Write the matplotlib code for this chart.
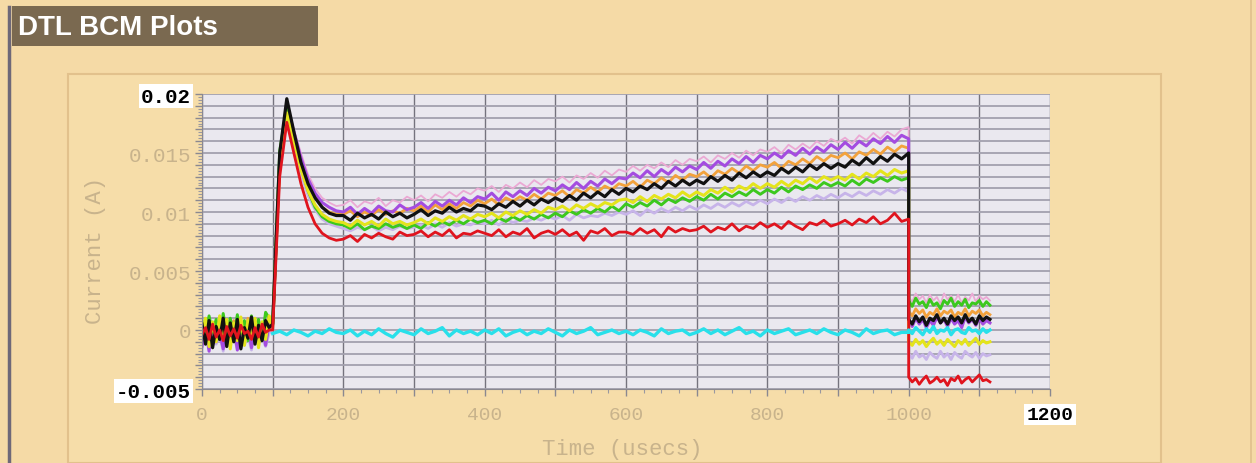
import numpy as np
import matplotlib.pyplot as plt
from matplotlib.patches import Rectangle
from matplotlib.lines import Line2D

'''DTL BCM plots - beam current monitor traces'''

# sample times (usecs)
t_pre = np.arange(0, 100, 5)
t_main = np.arange(100, 1001, 10)
t_post = np.arange(1000, 1116, 5)

# =============================================================================
# currents in units of 1e-4 A
# =============================================================================
pink_pre = [3, -6, 6, -9, 1, -4, 7, -11, 2, -3, 5, -8, 0, -5, 6, -10, 3, -2, 5, 1]
pink_main = [2, 140, 186, 170, 150, 132, 120, 112, 108, 105,
             106, 110, 104, 109, 107, 112, 105, 110, 108, 113,
             110, 114, 109, 115, 112, 117, 113, 118, 115, 120,
             118, 122, 117, 123, 120, 125, 121, 127, 123, 128,
             126, 130, 125, 131, 128, 133, 129, 135, 131, 136,
             134, 139, 135, 140, 137, 142, 138, 144, 140, 145,
             143, 147, 142, 148, 145, 150, 146, 152, 148, 153,
             151, 155, 150, 157, 153, 158, 154, 160, 156, 162,
             159, 163, 158, 165, 161, 167, 162, 168, 164, 170,
             172]
pink_post = [28, 24, 31, 26, 29, 23, 30, 25, 28, 22, 31, 26, 29, 24, 30, 23, 28, 25, 31, 24, 29, 26, 28, 25]

lav_pre = [-10, -3, -15, 0, -12, -5, -18, -2, -11, -6, -16, -1, -13, -4, -17, 1, -9, -7, -14, -3]
lav_main = [1, 138, 180, 156, 132, 114, 102, 94, 90, 88,
            86, 84, 87, 85, 88, 84, 87, 85, 88, 86,
            87, 89, 86, 90, 87, 91, 88, 90, 89, 92,
            90, 93, 89, 94, 91, 93, 92, 95, 93, 96,
            94, 97, 93, 98, 95, 97, 96, 99, 97, 100,
            98, 101, 97, 102, 99, 103, 100, 104, 101, 105,
            102, 106, 103, 107, 104, 108, 105, 109, 106, 110,
            107, 111, 108, 112, 109, 113, 110, 114, 111, 115,
            112, 116, 113, 117, 114, 118, 115, 119, 116, 120,
            117]
lav_post = [-20, -24, -18, -23, -21, -25, -19, -22, -24, -18, -23, -20, -25, -19, -22, -24, -18, -21, -23, -19, -24, -20, -22, -21]

orange_pre = [-2, 7, -10, 4, -6, 9, -12, 5, -3, 8, -11, 3, -7, 10, -9, 6, -4, 2, -10, 4]
orange_main = [3, 144, 188, 164, 142, 124, 113, 104, 100, 98,
               98, 101, 96, 100, 97, 102, 98, 101, 99, 103,
               101, 105, 100, 106, 102, 107, 103, 108, 105, 110,
               107, 111, 106, 112, 109, 113, 110, 115, 111, 116,
               114, 118, 113, 119, 116, 121, 117, 122, 119, 124,
               122, 126, 121, 127, 124, 129, 125, 131, 127, 132,
               130, 134, 129, 135, 132, 137, 133, 139, 135, 140,
               138, 142, 137, 143, 140, 145, 141, 147, 143, 148,
               146, 150, 145, 151, 148, 153, 149, 155, 151, 156,
               154]
orange_post = [16, 12, 18, 14, 17, 11, 15, 13, 18, 12, 16, 14, 17, 11, 15, 13, 18, 12, 16, 14, 17, 12, 15, 13]

purple_pre = [-14, 2, -18, 6, -10, -2, -16, 8, -12, 4, -17, 0, -9, 7, -15, 3, -11, 6, -13, 5]
purple_main = [4, 146, 190, 168, 146, 128, 116, 108, 104, 101,
               100, 104, 98, 103, 99, 105, 101, 100, 106, 102,
               104, 108, 103, 109, 105, 110, 106, 112, 108, 113,
               111, 116, 110, 117, 113, 118, 114, 120, 116, 121,
               118, 123, 119, 125, 120, 126, 122, 128, 124, 129,
               128, 133, 129, 135, 130, 136, 132, 138, 134, 139,
               136, 142, 137, 143, 139, 145, 141, 147, 142, 148,
               145, 150, 146, 152, 148, 154, 149, 155, 151, 157,
               153, 159, 154, 160, 156, 162, 158, 164, 159, 165,
               162]
purple_post = [7, 3, 10, 5, 9, 2, 8, 4, 11, 6, 9, 3, 10, 5, 8, 2, 11, 6, 9, 4, 10, 5, 8, 6]

green_pre = [8, -5, 12, -2, 9, -8, 14, -4, 10, -6, 13, -3, 8, -9, 12, -1, 9, -7, 15, 10]
green_main = [6, 152, 188, 162, 138, 118, 104, 96, 92, 90,
              89, 86, 90, 85, 88, 86, 90, 87, 89, 86,
              89, 86, 91, 88, 92, 89, 93, 90, 94, 91,
              93, 90, 95, 92, 96, 93, 97, 94, 98, 95,
              99, 96, 101, 98, 102, 99, 103, 100, 105, 101,
              107, 104, 108, 105, 110, 106, 111, 108, 112, 109,
              113, 110, 115, 111, 116, 113, 117, 114, 119, 115,
              119, 116, 121, 117, 122, 119, 123, 120, 125, 122,
              125, 122, 127, 123, 128, 125, 129, 126, 130, 127,
              129]
green_post = [25, 20, 27, 22, 24, 19, 26, 21, 23, 18, 25, 22, 27, 20, 24, 21, 26, 19, 23, 22, 25, 20, 24, 21]

yellow_pre = [-6, 10, -14, 7, -10, 12, -5, 9, -16, 6, -9, 11, -13, 8, -4, 10, -15, 7, -8, 12]
yellow_main = [2, 142, 184, 160, 136, 118, 106, 98, 94, 92,
               91, 88, 93, 89, 92, 88, 94, 90, 92, 89,
               91, 94, 90, 95, 92, 96, 93, 97, 94, 98,
               96, 99, 95, 100, 97, 101, 98, 102, 99, 104,
               102, 105, 101, 106, 103, 107, 104, 108, 106, 110,
               111, 108, 113, 109, 114, 111, 115, 112, 117, 113,
               117, 114, 119, 116, 121, 117, 122, 119, 124, 120,
               124, 121, 126, 122, 127, 124, 129, 125, 130, 127,
               130, 127, 132, 128, 133, 130, 135, 131, 136, 133,
               135]
yellow_post = [-10, -13, -8, -12, -9, -14, -10, -7, -12, -9, -13, -8, -11, -14, -9, -12, -8, -13, -10, -7, -12, -9, -11, -10]

black_pre = [5, -12, 8, -15, 3, -8, 10, -14, 6, -10, 9, -16, 2, -7, 11, -12, 4, -9, 8, 2]
black_main = [5, 150, 196, 168, 142, 124, 112, 104, 99, 97,
              97, 93, 99, 95, 98, 94, 100, 96, 99, 95,
              98, 102, 97, 101, 99, 104, 100, 103, 101, 106,
              105, 102, 107, 104, 109, 105, 110, 106, 111, 108,
              112, 109, 114, 110, 116, 112, 117, 113, 119, 115,
              120, 117, 122, 119, 124, 120, 126, 122, 127, 123,
              127, 124, 130, 126, 131, 127, 133, 129, 134, 130,
              134, 131, 137, 133, 138, 134, 140, 136, 141, 137,
              141, 138, 144, 140, 146, 141, 147, 143, 149, 145,
              150]
black_post = [9, 5, 12, 7, 11, 4, 10, 8, 13, 6, 10, 5, 12, 8, 11, 6, 13, 7, 10, 5, 12, 8, 11, 9]

red_pre = [-4, 2, -8, 5, -6, 0, -9, 3, -5, 1, -7, 4, -3, -1, -8, 2, -6, 5, -2, 0]
red_main = [0, 130, 176, 150, 124, 104, 90, 82, 78, 76,
            77, 80, 75, 81, 78, 82, 79, 77, 83, 80,
            81, 84, 79, 83, 80, 85, 78, 82, 81, 84,
            82, 80, 85, 79, 83, 81, 86, 78, 82, 84,
            81, 85, 80, 83, 76, 84, 82, 86, 80, 83,
            83, 81, 86, 82, 85, 79, 87, 83, 86, 84,
            85, 88, 83, 87, 85, 90, 84, 88, 86, 91,
            87, 90, 86, 92, 88, 85, 91, 89, 93, 88,
            90, 93, 89, 94, 91, 96, 90, 93, 99, 92,
            94]
red_post = [-40, -44, -41, -46, -42, -39, -45, -43, -40, -44, -42, -47, -41, -43, -39, -45, -42, -40, -44, -41, -38, -43, -42, -44]

# cyan monitor only shows up after 100 usecs, sitting at zero
cyan_main = [-3, -1, -4, 0, -2, -5, -1, -3, 1, -2,
             -3, 0, -5, -1, -4, 1, -3, -6, 0, -2,
             -4, 1, -3, -1, 2, -5, 0, -3, -1, -4,
             0, -3, 1, -5, -2, 0, -4, -1, -3, 1,
             -2, -5, 0, -3, -1, 2, -4, -2, 0, -3,
             -1, -4, 0, -2, -5, 1, -3, -1, 0, -4,
             -2, 1, -3, 0, -4, -1, 2, -3, -1, -5,
             0, -3, -1, 1, -4, -2, 0, -3, 1, -2,
             -4, 0, -2, -5, 1, -3, -1, 0, -4, -2,
             -2]
cyan_post = [0, -3, 2, -1, -4, 1, -2, 3, -3, 0, -1, 2, -4, 0, 1, -2, -3, 2, -1, 0, -3, 1, -2, 0]

W, H = 1256, 464
fig = plt.figure(figsize=(W/100, H/100), dpi=100, facecolor='#F5DAA6')

# panel decorations
fig.patches.append(Rectangle((68/W, 0), (1161-68)/W, 1-75/H, transform=fig.transFigure,
                             facecolor='#F6DDA9', edgecolor='#E2C18C', lw=1.5, zorder=-2))
fig.patches.append(Rectangle((12/W, 1-47/H), (318-12)/W, 40/H, transform=fig.transFigure,
                             facecolor='#7A6950', edgecolor='none', zorder=-1))
fig.lines.append(Line2D([9/W, 9/W], [0, 1-8/H], transform=fig.transFigure, color='#6E6878', lw=2.5))
fig.lines.append(Line2D([1251/W, 1251/W], [0, 1], transform=fig.transFigure, color='#E0C08C', lw=1.2))
fig.text(18/W, 1-28/H, 'DTL BCM Plots', color='white', fontsize=20, fontweight='bold',
         family='Liberation Sans', ha='left', va='center')

ax = fig.add_axes([202/W, 1-390/H, (1050-202)/W, (390-95)/H])
ax.set_zorder(2)
ax.set_facecolor('#EAE8EF')

scale = 1e-4
traces = [
    (pink_pre, pink_main, pink_post, '#EBA9D4', 1.3),
    (lav_pre, lav_main, lav_post, '#C7B4E9', 2.0),
    (orange_pre, orange_main, orange_post, '#F2A23C', 2.0),
    (purple_pre, purple_main, purple_post, '#A44CE0', 2.2),
    (green_pre, green_main, green_post, '#3CC81E', 2.1),
    (yellow_pre, yellow_main, yellow_post, '#E4E41C', 2.2),
    (black_pre, black_main, black_post, '#111111', 2.3),
    (red_pre, red_main, red_post, '#E0141E', 2.0),
]
for pre, main, post, col, lw in traces:
    t = np.concatenate([t_pre, t_main, t_post])
    y = np.concatenate([pre, main, post]) * scale
    ax.plot(t, y, color=col, lw=lw)

ax.plot(np.concatenate([t_main, t_post]), np.concatenate([cyan_main, cyan_post]) * scale,
        color='#28E0EA', lw=2.4)

ax.set_xlim(0, 1200)
ax.set_ylim(-0.005, 0.02)

# ticks and grid
xt = np.arange(0, 1201, 100)
ax.set_xticks(xt)
ax.set_xticks(np.arange(0, 1201, 25), minor=True)
ax.set_xticklabels([str(v) if v % 200 == 0 else '' for v in xt])
yt = np.round(np.arange(-50, 201, 10) * 1e-4, 4)
ax.set_yticks(yt)
ax.set_yticks(np.arange(-0.005, 0.02001, 0.00025), minor=True)
ylab = {-0.005: '-0.005', 0.0: '0', 0.005: '0.005', 0.01: '0.01', 0.015: '0.015', 0.02: '0.02'}
ax.set_yticklabels([ylab.get(round(v, 4), '') for v in yt])

ax.grid(axis='y', which='major', color='#A3A1AE', lw=1.3)
ax.grid(axis='x', which='major', color='#75737E', lw=1.0)
ax.set_axisbelow(True)

ax.tick_params(axis='both', which='major', length=5, color='#8A8890', width=1)
ax.tick_params(axis='both', which='minor', length=3, color='#9A98A0', width=0.8)
ax.tick_params(axis='y', which='major', labelsize=15, labelcolor='#C8B38C', pad=3)
ax.tick_params(axis='x', which='major', labelsize=14, labelcolor='#C8B38C', pad=7)

for lbl in ax.get_yticklabels() + ax.get_xticklabels():
    lbl.set_family('Liberation Mono')
    if lbl.get_text() in ('0.02', '-0.005', '1200'):
        lbl.set_color('black')
        lbl.set_fontweight('bold')
        lbl.set_bbox(dict(facecolor='white', edgecolor='none', pad=1.5))

for s in ['top', 'right']:
    ax.spines[s].set_visible(False)
for s in ['left', 'bottom']:
    ax.spines[s].set_color('#8A8890')

fig.text(95/W, 1-250/H, 'Current (A)', rotation=90, color='#C8B38C', fontsize=16,
         family='Liberation Mono', ha='center', va='center')
fig.text(622/W, 1-450/H, 'Time (usecs)', color='#C8B38C', fontsize=16,
         family='Liberation Mono', ha='center', va='center')

plt.savefig('out.png', dpi=100, facecolor=fig.get_facecolor())
